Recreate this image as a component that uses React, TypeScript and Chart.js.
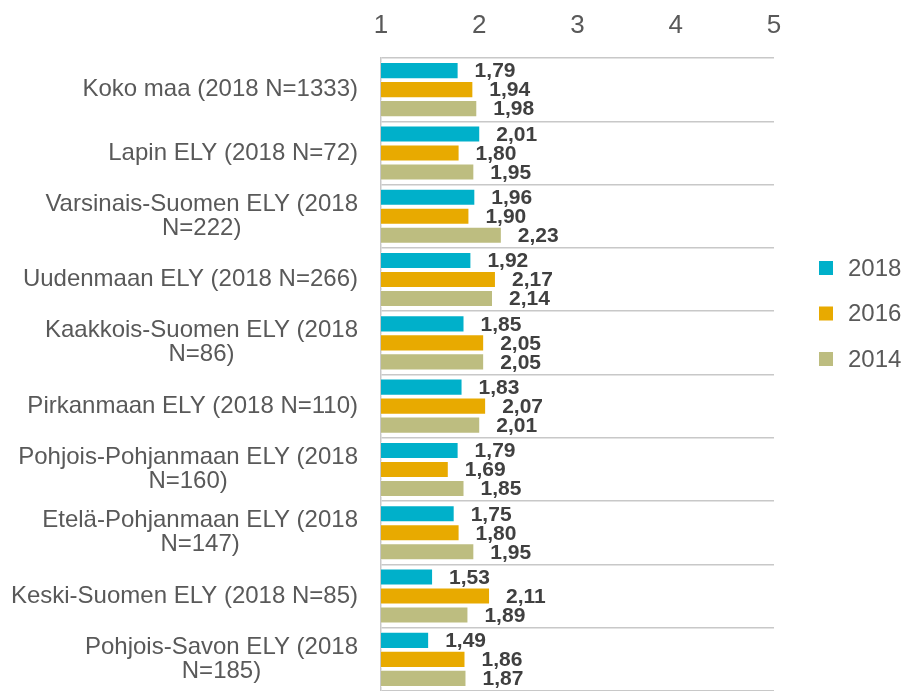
import React, { useEffect, useRef } from "react";
import { Chart, registerables } from "chart.js";

Chart.register(...registerables);

const categories: string[][] = [
  ["Koko maa (2018 N=1333)"],
  ["Lapin ELY (2018 N=72)"],
  ["Varsinais-Suomen ELY (2018", "N=222)"],
  ["Uudenmaan ELY (2018 N=266)"],
  ["Kaakkois-Suomen ELY (2018", "N=86)"],
  ["Pirkanmaan ELY (2018 N=110)"],
  ["Pohjois-Pohjanmaan ELY (2018", "N=160)"],
  ["Etelä-Pohjanmaan ELY (2018", "N=147)"],
  ["Keski-Suomen ELY (2018 N=85)"],
  ["Pohjois-Savon ELY (2018", "N=185)"],
];

const seriesNames = ["2018", "2016", "2014"];
const values2018 = [1.79, 2.01, 1.96, 1.92, 1.85, 1.83, 1.79, 1.75, 1.53, 1.49];
const values2016 = [1.94, 1.8, 1.9, 2.17, 2.05, 2.07, 1.69, 1.8, 2.11, 1.86];
const values2014 = [1.98, 1.95, 2.23, 2.14, 2.05, 2.01, 1.85, 1.95, 1.89, 1.87];
const seriesColors = ["#00B0CA", "#E8AA00", "#BDBD80"];

const FONT = "'Liberation Sans', Arial, sans-serif";
const GRAY = "#595959";

const catLabelPlugin = {
  id: "catLabels",
  afterDraw(chart: any) {
    const ctx = chart.ctx;
    const y = chart.scales.y;
    ctx.save();
    ctx.font = `24px ${FONT}`;
    ctx.fillStyle = GRAY;
    ctx.textAlign = "center";
    ctx.textBaseline = "middle";
    const rightEdge = y.right - 23;
    const lh = 24;
    categories.forEach((lines, i) => {
      const cy = y.getPixelForValue(i);
      const maxW = Math.max(...lines.map((l) => ctx.measureText(l).width));
      const cx = rightEdge - maxW / 2;
      const startY = cy - ((lines.length - 1) * lh) / 2;
      lines.forEach((l, j) => ctx.fillText(l, cx, startY + j * lh));
    });
    ctx.restore();
  },
};

const dataLabelPlugin = {
  id: "dataLabels",
  afterDatasetsDraw(chart: any) {
    const ctx = chart.ctx;
    ctx.save();
    ctx.font = `bold 21px ${FONT}`;
    ctx.fillStyle = "#404040";
    ctx.textAlign = "left";
    ctx.textBaseline = "middle";
    chart.data.datasets.forEach((ds: any, di: number) => {
      const meta = chart.getDatasetMeta(di);
      meta.data.forEach((el: any, i: number) => {
        const v = ds.data[i] as number;
        ctx.fillText(v.toFixed(2).replace(".", ","), el.x + 16, el.y + 1);
      });
    });
    ctx.restore();
  },
};

const legendPlugin = {
  id: "customLegend",
  afterDraw(chart: any) {
    const ctx = chart.ctx;
    ctx.save();
    ctx.font = `24px ${FONT}`;
    ctx.textAlign = "left";
    ctx.textBaseline = "middle";
    chart.data.datasets.forEach((ds: any, i: number) => {
      const cy = 268 + i * 45.5;
      ctx.fillStyle = ds.backgroundColor;
      ctx.fillRect(819, cy - 7, 14, 14);
      ctx.fillStyle = GRAY;
      ctx.fillText(ds.label, 848, cy + 1);
    });
    ctx.restore();
  },
};

export default function App() {
  const ref = useRef<HTMLCanvasElement>(null);
  useEffect(() => {
    if (!ref.current) return;
    const data = [values2018, values2016, values2014];
    const chart = new Chart(ref.current, {
      type: "bar",
      data: {
        labels: categories.map((c) => c.join(" ")),
        datasets: seriesNames.map((name, i) => ({
          label: name,
          data: data[i],
          backgroundColor: seriesColors[i],
          borderColor: "rgba(255,255,255,0.6)",
          borderWidth: 1,
          categoryPercentage: 0.9,
          barPercentage: 0.9,
        })),
      },
      options: {
        indexAxis: "y",
        responsive: false,
        animation: false,
        layout: { padding: { left: 0, right: 135, top: 0, bottom: 0 } },
        plugins: { legend: { display: false }, tooltip: { enabled: false } },
        scales: {
          x: {
            type: "linear",
            position: "top",
            min: 1,
            max: 5,
            ticks: {
              stepSize: 1,
              color: GRAY,
              font: { family: FONT, size: 26 },
              padding: 17,
            },
            grid: { display: false, drawTicks: false },
            border: { display: false },
            afterFit: (s: any) => {
              s.height = 58;
            },
          },
          y: {
            type: "category",
            ticks: { display: false },
            grid: {
              color: "#C8C8C8",
              lineWidth: 1.5,
              drawTicks: false,
              offset: true,
            },
            border: { display: true, color: "#C8C8C8", width: 1.5 },
            afterFit: (s: any) => {
              s.width = 381;
            },
          },
        },
      },
      plugins: [catLabelPlugin, dataLabelPlugin, legendPlugin],
    } as any);
    return () => chart.destroy();
  }, []);
  return (
    <div style={{ position: "absolute", left: 0, top: 0, width: 909, height: 691, background: "#fff" }}>
      <canvas ref={ref} width={909} height={691} />
    </div>
  );
}
